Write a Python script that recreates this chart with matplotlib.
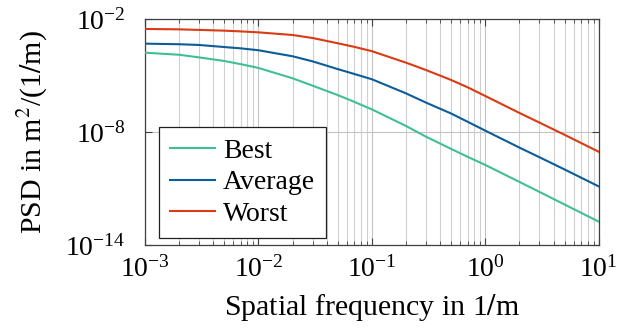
import matplotlib

matplotlib.use("Agg")
import matplotlib.pyplot as plt
import numpy as np
from matplotlib.ticker import LogLocator, NullFormatter, NullLocator

# spatial frequency in 1/m and log10 of the PSD
FREQ = [1e-3, 2e-3, 3e-3, 5e-3, 7e-3, 1e-2, 2e-2, 3e-2, 5e-2, 7e-2, 0.1, 0.2,
        0.3, 0.5, 0.7, 1.0, 2.0, 3.0, 5.0, 10.0]
LOG_BEST = [-3.79, -3.90, -4.04, -4.23, -4.40, -4.60, -5.15, -5.54, -6.04,
            -6.40, -6.80, -7.68, -8.25, -8.90, -9.32, -9.75, -10.65, -11.18,
            -11.85, -12.76]
LOG_AVERAGE = [-3.31, -3.34, -3.38, -3.49, -3.56, -3.66, -3.98, -4.25, -4.66,
               -4.92, -5.20, -5.95, -6.44, -7.02, -7.46, -7.93, -8.83, -9.34,
               -9.99, -10.89]
LOG_WORST = [-2.53, -2.55, -2.58, -2.62, -2.66, -2.71, -2.85, -3.01, -3.29,
             -3.48, -3.71, -4.32, -4.71, -5.24, -5.63, -6.09, -6.99, -7.50,
             -8.15, -9.05]

SERIES = [("Best", LOG_BEST, "#3fbf93"),
          ("Average", LOG_AVERAGE, "#0b5d9a"),
          ("Worst", LOG_WORST, "#db3a12")]

FS = 20
plt.rcParams.update({"font.family": ["Liberation Serif", "DejaVu Serif"],
                     "mathtext.fontset": "stix", "font.size": FS})

fig = plt.figure(figsize=(6.24, 3.33), dpi=100)
ax = fig.add_axes([0.2324, 0.2643, 0.7271, 0.6787])

f = np.array(FREQ)
for name, logs, col in SERIES:
    ax.plot(f, 10.0 ** np.array(logs), color=col, lw=1.5, label=name, zorder=3)

ax.set_xscale("log")
ax.set_yscale("log")
ax.set_xlim(1e-3, 1e1)
ax.set_ylim(1e-14, 1e-2)
ax.set_yticks([1e-14, 1e-8, 1e-2])
ax.yaxis.set_minor_locator(NullLocator())
ax.xaxis.set_major_locator(LogLocator(base=10, numticks=10))
ax.xaxis.set_minor_locator(LogLocator(base=10, subs=np.arange(2, 10), numticks=20))
ax.xaxis.set_minor_formatter(NullFormatter())

ax.grid(True, which="major", color="#c4c4c4", lw=0.8)
ax.grid(True, which="minor", axis="x", color="#d0d0d0", lw=0.8)
ax.set_axisbelow(True)
ax.tick_params(which="both", direction="in", top=True, right=True, colors="#404040",
               labelcolor="black", labelsize=FS)
ax.tick_params(which="major", length=5, width=0.8)
ax.tick_params(which="minor", length=3, width=0.6)
ax.tick_params(axis="x", which="major", pad=8)
ax.tick_params(axis="y", which="major", pad=14)
for s in ax.spines.values():
    s.set_color("#404040")
    s.set_linewidth(0.9)

ax.set_xlabel(r"Spatial frequency in 1$/$m", fontsize=21.5, labelpad=7)
ax.set_ylabel(r"PSD in m$^2$/(1$/$m)", fontsize=21.5, labelpad=11)

leg = ax.legend(loc="lower left", bbox_to_anchor=(0.031, 0.031), fontsize=FS,
                fancybox=False, framealpha=1, edgecolor="#202020",
                handlelength=1.6, handletextpad=0.3, borderpad=0.4,
                borderaxespad=0.0, labelspacing=0.22)
leg.get_frame().set_linewidth(0.9)

fig.savefig("out.png", dpi=100)
